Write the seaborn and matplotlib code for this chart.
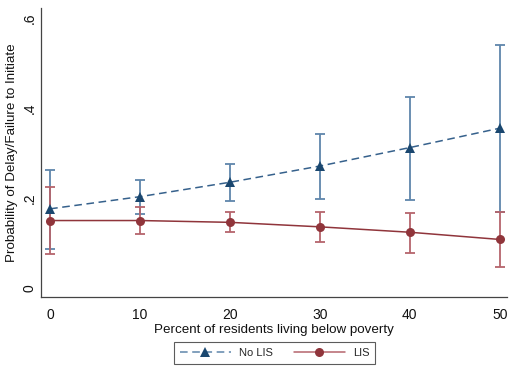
import matplotlib

matplotlib.use("Agg")

import matplotlib.pyplot as plt
import pandas as pd
import seaborn as sns
from matplotlib.lines import Line2D

poverty = [0, 10, 20, 30, 40, 50]

no_lis = [0.176, 0.203, 0.235, 0.271, 0.312, 0.355]
no_lis_lo = [0.087, 0.164, 0.193, 0.197, 0.196, 0.169]
no_lis_hi = [0.262, 0.240, 0.275, 0.343, 0.425, 0.539]

lis = [0.150, 0.150, 0.146, 0.136, 0.124, 0.108]
lis_lo = [0.075, 0.121, 0.124, 0.103, 0.079, 0.047]
lis_hi = [0.225, 0.179, 0.168, 0.170, 0.167, 0.169]

NAVY = "#1a476f"
NAVY_LINE = "#36618c"
NAVY_CI = "#5f86ab"
MAROON = "#90353b"
MAROON_CI = "#b5646c"

sns.set_style("white")
plt.rcParams["font.family"] = ["Liberation Sans", "DejaVu Sans"]

df = pd.DataFrame(
    {
        "poverty": poverty * 2,
        "prob": no_lis + lis,
        "group": ["No LIS"] * len(poverty) + ["LIS"] * len(poverty),
    }
)

fig = plt.figure(figsize=(5.27, 3.78), dpi=100)
ax = fig.add_axes([0.078, 0.214, 0.884, 0.765])

# confidence intervals
ax.errorbar(
    poverty, no_lis,
    yerr=[[m - l for m, l in zip(no_lis, no_lis_lo)], [h - m for m, h in zip(no_lis, no_lis_hi)]],
    fmt="none", ecolor=NAVY_CI, elinewidth=1.3, capsize=3.5, capthick=1.3, zorder=2,
)
ax.errorbar(
    poverty, lis,
    yerr=[[m - l for m, l in zip(lis, lis_lo)], [h - m for m, h in zip(lis, lis_hi)]],
    fmt="none", ecolor=MAROON_CI, elinewidth=1.3, capsize=3.5, capthick=1.3, zorder=2,
)

sns.lineplot(
    data=df, x="poverty", y="prob", hue="group", style="group",
    palette={"No LIS": NAVY_LINE, "LIS": MAROON},
    dashes={"No LIS": (5, 3), "LIS": ""},
    markers={"No LIS": "^", "LIS": "o"},
    markersize=6.5, markeredgewidth=0, linewidth=1.1,
    legend=False, ax=ax, zorder=3,
)
# markers in the darker shade
for ln in ax.lines:
    if ln.get_marker() == "^":
        ln.set_markerfacecolor(NAVY)

ax.set_xlim(-1, 50.8)
ax.set_ylim(-0.02, 0.622)
ax.set_xticks([0, 10, 20, 30, 40, 50])
ax.set_yticks([0, 0.2, 0.4, 0.6])
ax.set_yticklabels(["0", ".2", ".4", ".6"], rotation=90, va="center")
ax.tick_params(axis="both", direction="out", length=5, width=0.8, color="#555555",
               labelsize=10, labelcolor="#111111")
ax.tick_params(axis="x", pad=3)
ax.tick_params(axis="y", pad=-2)

sns.despine(ax=ax)
for side in ["left", "bottom"]:
    ax.spines[side].set_color("#444444")
    ax.spines[side].set_linewidth(0.9)

ax.set_xlabel("Percent of residents living below poverty", fontsize=9.6, labelpad=1, color="#111111")
ax.set_ylabel("Probability of Delay/Failure to Initiate", fontsize=9.6, color="#111111")
ax.yaxis.set_label_coords(-0.05, 0.5)

handles = [
    Line2D([0], [0], color=NAVY_CI, linestyle=(0, (5, 3)), linewidth=1.1,
           marker="^", markerfacecolor=NAVY, markeredgewidth=0, markersize=6.5),
    Line2D([0], [0], color=MAROON_CI, linestyle="-", linewidth=1.1,
           marker="o", markerfacecolor=MAROON, markeredgewidth=0, markersize=6.5),
]
leg = fig.legend(
    handles, ["No LIS", "LIS"], loc="center", bbox_to_anchor=(274.5 / 527, 1 - 353 / 378),
    ncol=2, frameon=True, fancybox=False, fontsize=8, handlelength=4.6,
    columnspacing=1.9, borderpad=0.55, handletextpad=0.7, numpoints=1,
)
leg.get_frame().set_edgecolor("#333333")
leg.get_frame().set_linewidth(0.8)

fig.savefig("out.png", dpi=100, facecolor="white")
